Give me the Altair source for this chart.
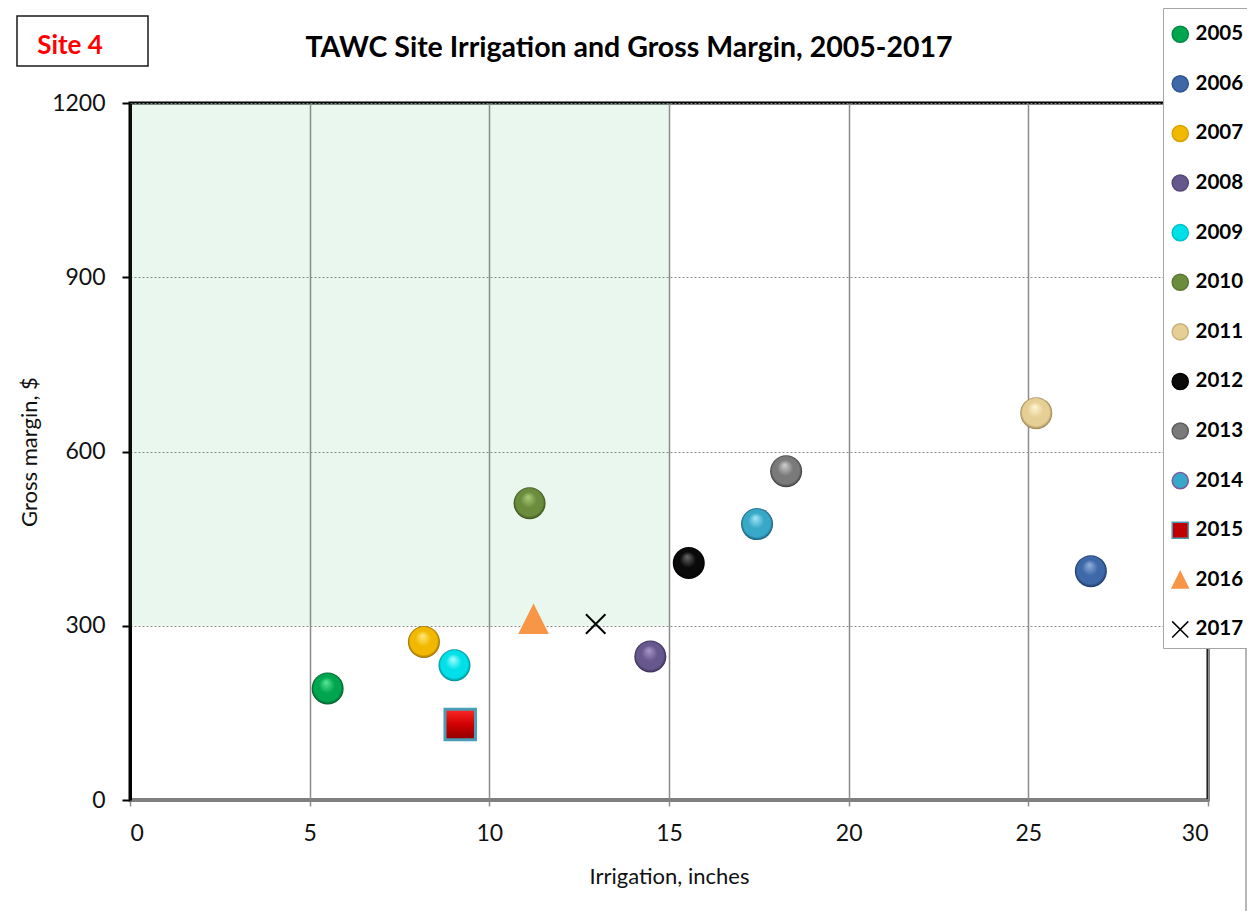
import altair as alt
import pandas as pd

# ---- data ----
years = ["2005", "2006", "2007", "2008", "2009", "2010", "2011",
         "2012", "2013", "2014", "2015", "2016", "2017"]
irrigation = [5.50, 26.74, 8.18, 14.48, 9.03, 11.12, 25.22,
              15.55, 18.26, 17.45, 9.19, 11.23, 12.96]
gross_margin = [192, 394, 272, 247, 232, 511, 666,
                408, 566, 475, 130, 312, 303]

x_ticks = [0, 5, 10, 15, 20, 25, 30]
y_ticks = [0, 300, 600, 900, 1200]
zone_x = [0, 15]
zone_y = [300, 1200]

title_text = "TAWC Site Irrigation and Gross Margin, 2005-2017"
site_text = "Site 4"

# ---- styles ----
FONT = "Lato"
TRI = "M0,-1L1,1L-1,1Z"
XPATH = "M-1,-1L1,1M-1,1L1,-1"

base_fill = ["#00A550", "#3E68A8", "#F2B800", "#66578C", "#00E0E8", "#6B8C3C",
             "#E6CF94", "#0A0A0A", "#7A7A7A", "#38A8C8", "#C00000", "#F79646",
             "transparent"]
legend_stroke = ["#008A42", "#2F5690", "#D9A300", "#564978", "#00C0C8", "#5A7832",
                 "#C8B07A", "#000000", "#5E5E5E", "#7A5C9E", "#4A9DB5", "#F79646",
                 "#000000"]
shapes = ["circle"] * 10 + ["square", TRI, XPATH]

sphere_light = ["#5CE896", "#92B2DE", "#FFE97A", "#A999CA", "#A8FFFF", "#AACA7C",
                "#FFF6D6", "#6A6A6A", "#D0D0D0", "#A6E6F6"]
sphere_dark = ["#005A28", "#1C3866", "#946C00", "#372C52", "#00878F", "#3A501C",
               "#9A8250", "#000000", "#3C3C3C", "#185C74"]

df = pd.DataFrame({"year": years, "irr": irrigation, "gm": gross_margin})

x_enc = alt.X("irr:Q", title="Irrigation, inches",
              scale=alt.Scale(domain=[0, 30], nice=False, zero=False),
              axis=alt.Axis(values=x_ticks, grid=True, gridColor="#8C8C8C", gridWidth=1.5,
                            domainColor="#7F7F7F", domainWidth=3,
                            tickColor="#8C8C8C", tickSize=6, tickWidth=1.5,
                            labelFont=FONT, labelFontSize=23, labelColor="#111111",
                            labelPadding=16, titleFont=FONT, titleFontSize=22,
                            titleFontWeight="normal", titleColor="#111111",
                            titlePadding=21))
y_enc = alt.Y("gm:Q", title="Gross margin, $",
              scale=alt.Scale(domain=[0, 1200], nice=False, zero=False),
              axis=alt.Axis(values=y_ticks, format="d", grid=True, gridColor="#8C8C8C",
                            gridWidth=1.2, gridDash=[2, 2], domainColor="#000000",
                            domainWidth=3, tickColor="#000000", tickSize=8, tickWidth=2,
                            labelFont=FONT, labelFontSize=23, labelColor="#111111",
                            labelPadding=17, titleFont=FONT, titleFontSize=22,
                            titleFontWeight="normal", titleColor="#111111",
                            titlePadding=10))

one = pd.DataFrame({"k": [0]})

# outer chart border
outer = alt.Chart(one).mark_rect(fill="transparent", stroke="#A0A0A0", strokeWidth=1.5).encode(
    x=alt.value(-123), x2=alt.value(1116), y=alt.value(-96), y2=alt.value(840))

# shaded target zone
zone_df = pd.DataFrame({"irr": [zone_x[0]], "irr2": [zone_x[1]],
                        "gm": [zone_y[0]], "gm2": [zone_y[1]]})
zone = alt.Chart(zone_df).mark_rect(fill="#34B45A", opacity=0.1).encode(
    x=x_enc, x2="irr2:Q", y=y_enc, y2="gm2:Q")

# legend carrier (no marks drawn)
legend_layer = alt.Chart(df).transform_filter("false").mark_point(filled=True, opacity=1).encode(
    x=x_enc, y=y_enc,
    fill=alt.Fill("year:N", scale=alt.Scale(domain=years, range=base_fill),
                  legend=alt.Legend(title=" ", orient="none", legendX=1033, legendY=-95,
                                    padding=7, titleFontSize=6, titlePadding=3,
                                    fillColor="white", strokeColor="#A6A6A6",
                                    labelFont=FONT, labelFontSize=20.5, labelFontWeight="bold",
                                    labelColor="#000000", labelOffset=5,
                                    symbolSize=260, symbolStrokeWidth=1.5,
                                    rowPadding=26.6)),
    stroke=alt.Stroke("year:N", scale=alt.Scale(domain=years, range=legend_stroke)),
    shape=alt.Shape("year:N", scale=alt.Scale(domain=years, range=shapes)),
)


def sphere(light, base, dark):
    return {"gradient": "radial", "x1": 0.45, "y1": 0.3, "r1": 0.0,
            "x2": 0.5, "y2": 0.5, "r2": 0.5,
            "stops": [{"offset": 0.0, "color": light},
                      {"offset": 0.5, "color": base},
                      {"offset": 0.85, "color": base},
                      {"offset": 1.0, "color": dark}]}


balls = []
for i in range(10):
    balls.append(
        alt.Chart(df).transform_filter(alt.datum.year == years[i]).mark_point(
            shape="circle", filled=True, opacity=1, strokeWidth=0, size=1024,
            fill=sphere(sphere_light[i], base_fill[i], sphere_dark[i])
        ).encode(x=x_enc, y=y_enc)
    )

square = alt.Chart(df).transform_filter(alt.datum.year == years[10]).mark_point(
    shape="square", filled=True, opacity=1, size=930, stroke="#4A9DB5", strokeWidth=3,
    fill={"gradient": "linear", "x1": 0, "y1": 0, "x2": 0, "y2": 1,
          "stops": [{"offset": 0, "color": "#FF2A2A"},
                    {"offset": 0.5, "color": "#D00000"},
                    {"offset": 1, "color": "#8C0000"}]}
).encode(x=x_enc, y=y_enc)

triangle = alt.Chart(df).transform_filter(alt.datum.year == years[11]).mark_point(
    shape=TRI, filled=True, opacity=1, size=940, fill="#F79646", strokeWidth=0
).encode(x=x_enc, y=y_enc)

cross = alt.Chart(df).transform_filter(alt.datum.year == years[12]).mark_point(
    shape=XPATH, filled=False, opacity=1, size=380, stroke="#000000", strokeWidth=2
).encode(x=x_enc, y=y_enc)

title = alt.Chart(pd.DataFrame({"t": [title_text]})).mark_text(
    font=FONT, fontSize=28.5, fontWeight="bold", color="#000000", align="center",
    baseline="alphabetic"
).encode(x=alt.value(499), y=alt.value(-46), text="t:N")

site_box = alt.Chart(one).mark_rect(fill="white", stroke="#1A1A1A", strokeWidth=1.5).encode(
    x=alt.value(-113), x2=alt.value(18), y=alt.value(-87), y2=alt.value(-37))

site = alt.Chart(pd.DataFrame({"t": [site_text]})).mark_text(
    font=FONT, fontSize=26, fontWeight="bold", color="#FF0000", align="center",
    baseline="alphabetic"
).encode(x=alt.value(-60), y=alt.value(-49), text="t:N")

chart = alt.layer(
    outer, zone, legend_layer, *balls, square, triangle, cross, title, site_box, site
).properties(
    width=1078, height=697,
    autosize=alt.AutoSizeParams(type="none"),
    padding={"left": 122, "top": 95, "right": 39, "bottom": 111},
    background="white",
).configure_view(stroke="#000000", strokeWidth=3)

chart.save("out.html", embed_options={"renderer": "svg", "actions": False})
